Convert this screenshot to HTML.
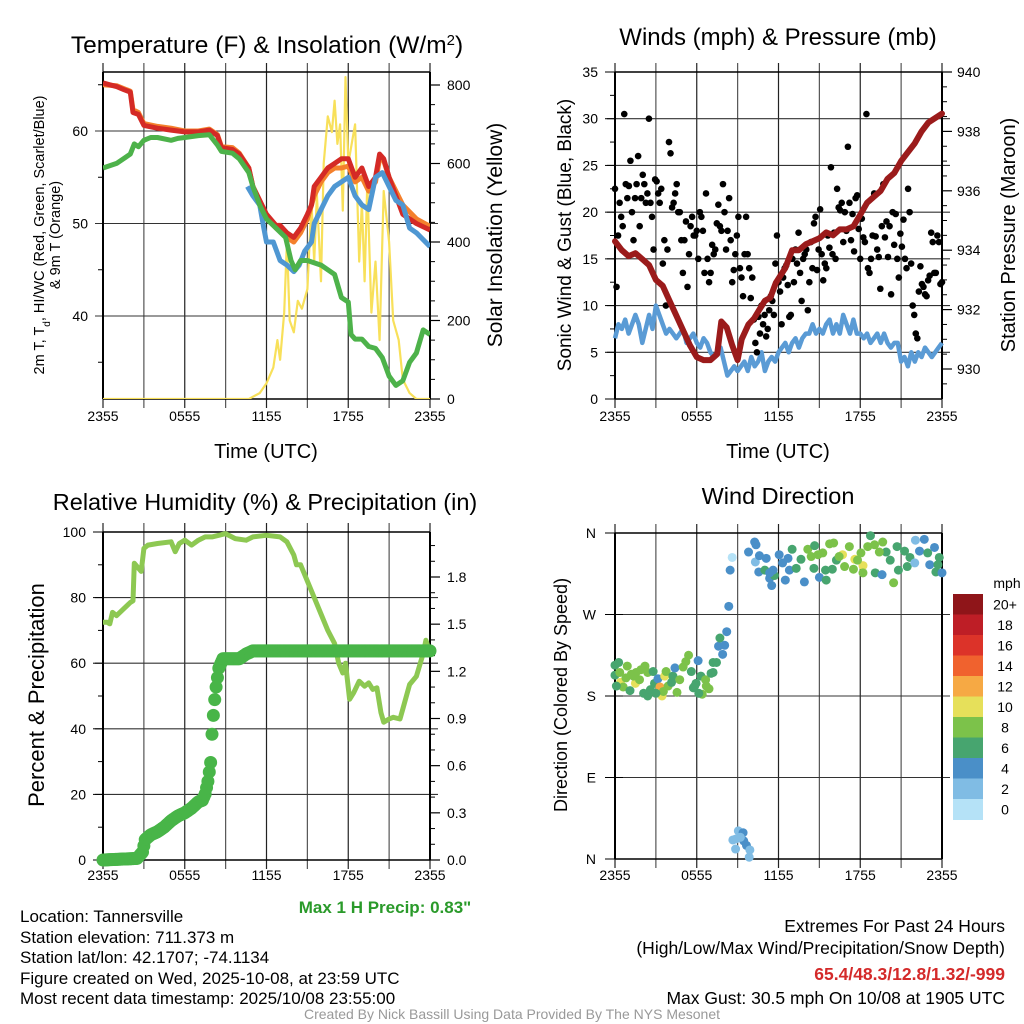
<!DOCTYPE html>
<html><head><meta charset="utf-8">
<style>
html,body{margin:0;padding:0;background:#fff;}
svg{display:block;font-family:"Liberation Sans",sans-serif;}
.t{font-family:"Liberation Sans Narrow","Liberation Sans",sans-serif;font-size:17px;}
</style></head>
<body>
<svg id="chart" width="1024" height="1024" viewBox="0 0 1024 1024">
<rect width="1024" height="1024" fill="#fff"/>
<g id="layer"></g>
<text x="267" y="53" font-size="24.5" text-anchor="middle">Temperature (F) &amp; Insolation (W/m<tspan baseline-shift="super" font-size="15">2</tspan>)</text>
<text x="778" y="45" font-size="24" text-anchor="middle">Winds (mph) &amp; Pressure (mb)</text>
<text x="265" y="510" font-size="23.5" text-anchor="middle">Relative Humidity (%) &amp; Precipitation (in)</text>
<text x="778" y="504" font-size="23.5" text-anchor="middle">Wind Direction</text>
<text x="266" y="458" font-size="20" text-anchor="middle">Time (UTC)</text>
<text x="778" y="458" font-size="20" text-anchor="middle">Time (UTC)</text>
<text transform="translate(44,235) rotate(-90)" font-size="14.5" text-anchor="middle">2m T, T<tspan baseline-shift="sub" font-size="10">d</tspan>, HI/WC (Red, Green, Scarlet/Blue)</text>
<text transform="translate(60,235) rotate(-90)" font-size="14.5" text-anchor="middle">&amp; 9m T (Orange)</text>
<text transform="translate(502,235) rotate(-90)" font-size="21" text-anchor="middle">Solar Insolation (Yellow)</text>
<text transform="translate(571,235) rotate(-90)" font-size="19" text-anchor="middle">Sonic Wind &amp; Gust (Blue, Black)</text>
<text transform="translate(1015,235) rotate(-90)" font-size="20" text-anchor="middle">Station Pressure (Maroon)</text>
<text transform="translate(44,695) rotate(-90)" font-size="22" text-anchor="middle">Percent &amp; Precipitation</text>
<text transform="translate(567,695) rotate(-90)" font-size="18" text-anchor="middle">Direction (Colored By Speed)</text>
<text x="385" y="913" class="t" font-weight="bold" fill="#2a9a2a" text-anchor="middle" style="font-size:17px">Max 1 H Precip: 0.83"</text>
<g class="t">
<text x="20" y="922">Location: Tannersville</text>
<text x="20" y="943">Station elevation: 711.373 m</text>
<text x="20" y="963">Station lat/lon: 42.1707; -74.1134</text>
<text x="20" y="984">Figure created on Wed, 2025-10-08, at 23:59 UTC</text>
<text x="20" y="1004">Most recent data timestamp: 2025/10/08 23:55:00</text>
</g>
<g class="t" text-anchor="end" style="font-size:17.5px">
<text x="1005" y="932">Extremes For Past 24 Hours</text>
<text x="1005" y="954">(High/Low/Max Wind/Precipitation/Snow Depth)</text>
<text x="1005" y="980" font-weight="bold" fill="#d42a2a">65.4/48.3/12.8/1.32/-999</text>
<text x="1005" y="1004">Max Gust: 30.5 mph On 10/08 at 1905 UTC</text>
</g>
<text x="512" y="1019" font-family="Liberation Sans Narrow, Liberation Sans, sans-serif" font-size="14" fill="#999" text-anchor="middle">Created By Nick Bassill Using Data Provided By The NYS Mesonet</text>
</svg>
<script>
// ---------- data ----------
const timeLabels=["2355","0555","1155","1755","2355"];
const tempRed=[[0,65.2],[0.5,65],[1,64.8],[1.5,64.5],[2,64.2],[2.2,62],[2.6,61.8],[3,60.6],[4,60.3],[5,60.1],[6,59.9],[7,59.9],[7.8,60.1],[8.4,59.5],[8.7,58.2],[9.5,58],[10,57.5],[10.7,56],[11,54],[11.5,52.5],[12,51],[12.7,49.8],[13,49.8],[13.5,49],[14,48.5],[14.5,49.5],[15,51],[15.3,52],[15.5,54],[16,55],[16.5,56],[17,56.5],[17.5,57],[18,57],[18.5,55],[19,56],[19.5,54],[20,55],[20.3,57.5],[20.6,57],[21,55],[21.5,53],[22,51],[23,50],[24,49.3]];
const tempOrange=[[0,65],[1,64.9],[2,64.3],[2.2,62.3],[2.6,62],[3,60.8],[4,60.5],[5,60.3],[6,60],[7,60],[7.8,60.2],[8.4,59.6],[8.7,58.3],[9.5,58.2],[10,57.6],[10.7,56],[11,54],[11.5,52.3],[12,50.8],[12.7,49.5],[13.5,48.5],[14,48],[14.5,49],[15,50.5],[15.5,53],[16,54.5],[16.5,55.5],[17,56],[17.5,56],[18,56.2],[18.5,54.5],[19,55],[19.5,53.5],[20,54.5],[20.3,57],[20.6,56.8],[21,55],[21.5,53.5],[22,52],[23,50.5],[24,49.7]];
const tempDew=[[0,56],[1,56.5],[1.5,57],[2,57.5],[2.3,58.6],[2.6,58.3],[3,59],[3.5,59.3],[4,59.3],[5,59],[5.5,59.2],[6,59.3],[7,59.5],[7.8,59.6],[8.4,58.5],[8.7,57.8],[9.5,57.6],[10,57],[10.7,55.5],[11,54],[11.5,52],[12,50.5],[12.7,49.5],[13.4,48.5],[13.8,46],[14.1,45],[14.5,46],[15,46],[16,45.5],[17,44.5],[17.5,42],[18,41.5],[18.2,38],[18.5,37.5],[19,37.5],[19.5,36.7],[20,36.5],[20.5,35.5],[21,33.5],[21.5,32.5],[22,33],[22.5,35],[23,36],[23.5,38.5],[24,38]];
const tempChill=[[10.6,54],[11,53],[11.5,52],[11.8,49.5],[12,48],[12.5,48],[13,46],[13.5,45.5],[14,44.8],[14.4,45.5],[14.8,47],[15.3,48],[15.5,50],[16,51.5],[16.5,53],[17,54],[17.5,54.5],[18,55],[18.5,53],[19,52],[19.5,51.5],[20,55],[20.5,55.5],[21,54],[21.5,52.5],[22,52],[22.5,49.5],[23,49],[24,47.5]];
const solar=[[0,0],[10.7,0],[11.5,15],[12,40],[12.5,80],[12.8,150],[13,100],[13.3,220],[13.5,400],[13.7,200],[14,170],[14.3,250],[14.6,230],[15,280],[15.3,500],[15.5,350],[15.7,520],[16,300],[16.2,600],[16.5,720],[16.8,680],[17,760],[17.2,650],[17.4,700],[17.6,480],[17.8,820],[18,600],[18.2,640],[18.5,700],[18.8,350],[19,500],[19.2,300],[19.4,550],[19.7,220],[20,350],[20.3,150],[20.6,530],[21,400],[21.3,200],[21.7,150],[22,50],[22.5,15],[23,0],[24,0]];
const windSpeed=[6.5,8,7.5,8.5,7,8,9,8,6,7.5,9,7.5, 10,9,8,7,7.5,7,6.5,7,7.5,6,6.5,7, 6,5.5,6.5,6,5,4.5,5,5.5,4,2.5,3,3.5, 3,3.5,4,3,4.5,3.5,4,5,3,4,4.5,4, 5,5.5,6,5,6,6.5,5.5,6.5,7,7,8,7, 7.5,7,8,8.5,7,8,7,9,8,7,8.5,7, 7,6.5,7,6,6.5,7,6,7,6,5.5,6,6, 4,4.5,3.5,5,4,5,4.5,5.5,5,4.5,5,5.5,6];
const gusts=[22.5,12,17.5,21,19.5,18.5,30.5,23,21.5,22.8,25.5,20,17,21.5,23,26,18.5,21.5,24,23,21,22,30,21,19.5,16,23.5,23.3,22,21,22.5,14.5,17,10,16,27.5,26.3,20.5,21,22,23,20,20,17,13.5,17,19,12,15.5,18.5,19.5,17.5,17.5,18,15,20,19.5,18,13.5,22,15,12.5,13.5,16.5,15.5,16,18.8,20.8,18.5,18,23,20,16,18,21.5,17,12.5,13.8,15.5,17.5,19.5,14,13,11,15.5,19.5,15.5,14,10.8,13,8.5,6,5,8.8,7,10,8,9,6.7,7.5,9.5,11,10.5,9,14.5,17.5,12.5,11.5,8,13,14,14.3,12.2,8.8,9,15,12.5,16,14.5,17.8,13.5,10.5,15,15.5,16,9.5,12.5,16.8,14,18.8,19.5,13.8,16,20.3,15.5,12.7,14.5,14,17.5,16.2,24.8,15.5,17.8,15,22.5,20.5,20.2,21,16.8,20,18,27,21,17,19.8,15.8,21.5,21.8,18.2,15,19.3,17.3,16.8,30.5,14,13.5,15,17.5,22,17.4,16,15.2,11.8,18.5,23,17.3,19,15.2,18.5,11.2,20,16.5,19.8,15,13,17.7,16.3,19.2,15,14,22.5,20,14.5,10,9,7,6.5,11.5,14.2,12.3,12,11.2,11,12.7,13.2,17.8,16.8,13.5,13.5,17.5,16.8,12.3,12.5];
const pressure=[[0,934.3],[0.5,934],[1,933.8],[1.5,933.9],[2,933.7],[2.5,933.5],[3,933],[3.5,932.8],[4,932.3],[4.5,931.8],[5,931.3],[5.5,930.8],[6,930.4],[6.5,930.3],[7,930.3],[7.5,930.5],[7.8,931.6],[8.2,931.4],[8.6,930.8],[9,930.3],[9.3,931],[9.8,931.5],[10.2,931.7],[10.6,932],[11,932.3],[11.4,932.4],[11.8,932.9],[12.5,933.4],[13,934],[13.5,934],[14,934.2],[14.5,934.3],[15,934.4],[15.5,934.6],[16,934.5],[16.5,934.7],[17,934.7],[17.5,934.8],[18,935.2],[18.5,935.6],[19,935.8],[19.5,936],[20,936.4],[20.5,936.6],[21,937],[21.5,937.3],[22,937.6],[22.5,938],[23,938.3],[24,938.6]];
const rh=[[0,72.5],[0.3,72.5],[0.5,72],[0.7,75.5],[1,74.5],[1.5,76.5],[2,78.5],[2.2,79],[2.3,90.5],[2.6,89],[2.8,88],[3,95],[3.3,96],[4,96.5],[5,97],[5.3,94],[5.6,96.5],[6,97.5],[6.5,96],[7,97.5],[7.5,98.5],[8,98.5],[8.5,99],[9,99.5],[9.7,98],[10.5,97.5],[11,98.5],[12,99],[13,98.5],[13.5,97],[14,93],[14.2,90],[14.5,90],[15,85],[15.5,80],[16,75],[16.5,70],[17,66],[17.3,60],[17.6,57],[17.8,60],[18.1,49],[18.4,51],[18.8,54.5],[19.2,53],[19.5,54],[19.8,52],[20.1,52.5],[20.4,45],[20.6,42],[21,43],[21.3,43.5],[21.8,43],[22,46],[22.5,53.5],[23,56],[23.5,63],[23.7,67],[24,63]];
const precip=[[0,0],[2.5,0.01],[2.9,0.05],[3.1,0.13],[3.5,0.16],[4,0.18],[4.5,0.21],[5,0.25],[5.5,0.28],[6,0.3],[6.5,0.33],[7,0.37],[7.3,0.38],[7.5,0.42],[7.7,0.5],[7.9,0.62],[8,0.8],[8.1,0.92],[8.2,1.02],[8.3,1.1],[8.5,1.22],[8.8,1.28],[9.5,1.28],[10,1.28],[10.5,1.31],[11,1.33],[24,1.33]];
const dirTime=[0,0.27,0,0.4,0.35,0.9,0.6,1.1,1.2,1.55,1.5,1.8,2.1,2.2,2.4,2.4,2.8,2.9,3.15,3.3,3.45,3.65,3.75,3.55,4.25,4.4,4.55,4.75,5.2,5.4,5.6,5.75,5.95,6.1,6.3,6.4,6.65,6.9,7.05,7.2,7.45,7.6,7.7,7.9,8.05,8.2,8.35,8.45,8.6,0.1,0.8,1.35,1.9,2.6,3,3.9,4.15,5,5.85,6.15,6.7,7.2,
8.85,9.05,9.4,8.85,9.45,9.65,9.9,9.85,8.65,9.2,
9.8,10.25,10.35,10.3,10.6,11.1,10.55,11,11.35,11.5,11.7,12.05,12.3,12.5,12.8,13,13.3,13.65,13.9,14.15,14.4,14.65,14.9,15,15.45,15.5,15.75,16.05,15.95,16.25,16.7,16.85,17.2,17.6,17.5,18.05,18.2,18.2,18.75,19.05,19.1,19.65,19.6,19.9,20.2,20.45,20.7,20.8,21.25,21.45,21.65,22.05,22,22.35,22.7,22.95,23.1,23.45,23.55,23.8,24,23.7,19.4,18.55,17.8,16.45,15.25,14.6,12.7,11.6,11.35];
const dirDeg=[214,217,203,195,206,213,190,186,204,206,194,198,183,213,206,180,207,194,199,190,180,202,207,185,202,211,184,198,218,225,207,189,194,219,202,182,198,188,205,217,217,235,244,226,236,251,279,319,333,191,200,202,209,187,183,191,195,212,191,183,191,206,
22,31,29,11,20,15,10,2,21,24,
339,350,347,328,335,332,317,319,310,302,313,336,327,308,319,342,321,331,306,342,334,346,336,311,319,308,348,349,320,330,336,323,345,331,320,338,324,316,357,347,316,350,314,339,330,305,345,319,340,323,333,352,327,340,353,338,325,344,317,333,316,325,339,345,330,334,338,321,332,319,316];
const dirSpeed=[6,6,6,10,8,8,8,6,8,8,10,8,6,8,8,6,6,6,4,12,10,10,8,8,6,4,8,8,8,8,6,6,6,4,6,8,8,8,6,6,6,4,6,4,4,4,4,4,0.5,6,8,8,8,6,6,8,6,8,6,6,8,6,
2.5,2.5,4,2.5,4,4,2.5,2.5,2.5,2.5,
4,4,4,2.5,4,4,4,6,4,4,6,4,4,4,4,6,6,6,4,8,8,6,8,4,6,6,8,8,6,6,10,8,8,10,8,8,10,8,6,8,6,8,4,6,6,8,6,6,6,6,6,2.5,2.5,4,4,6,4,4,6,6,4,6,8,8,8,8,8,6,4,4,4];
const speedLabels=["0","2","4","6","8","10","12","14","16","18","20+"];
const speedColors=["#b5e2f7","#80bce4","#4a8fc8","#47a56f","#7cc24a","#e6e05a","#f6a944","#f0622e","#dc3329","#be1e26","#8f1519"];

// ---------- helpers ----------
const NS="http://www.w3.org/2000/svg";
const layer=document.getElementById('layer');
function mk(tag,attrs,parent){const e=document.createElementNS(NS,tag);for(const k in attrs)e.setAttribute(k,attrs[k]);(parent||layer).appendChild(e);return e;}
function grp(name){const g=mk('g',{});return g;}
const X0=103,X1=430,X0b=615,X1b=942;
function xs(left,right){return h=>left+(right-left)*h/24;}
function lin(d0,d1,p0,p1){return v=>p0+(v-d0)*(p1-p0)/(d1-d0);}
function pathFrom(pts,fx,fy){return pts.map((p,i)=>(i?'L':'M')+fx(p[0]).toFixed(1)+' '+fy(p[1]).toFixed(1)).join('');}
function txt(g,x,y,s,anchor,size){const t=mk('text',{x:x,y:y,'font-size':size||14,'text-anchor':anchor||'middle'},g);t.textContent=s;return t;}

function frame(name,left,right,top,bottom,fy,hvals,yl,yLabels,labelX){
  const g=grp(name+'-axes');
  for(let i=0;i<=8;i++){const x=left+(right-left)*i/8;
    mk('line',{x1:x,x2:x,y1:top-9,y2:bottom+9,stroke:(i%2?'#555':'#222'),'stroke-width':1.2},g);
  }
  hvals.forEach(v=>{mk('line',{x1:left-8,x2:right+8,y1:fy(v),y2:fy(v),stroke:'#333','stroke-width':1.1},g);});
  mk('line',{x1:left,x2:right,y1:top,y2:top,stroke:'#000','stroke-width':1.5},g);
  mk('line',{x1:left,x2:right,y1:bottom,y2:bottom,stroke:'#000','stroke-width':1.5},g);
  mk('line',{x1:left,x2:left,y1:top,y2:bottom,stroke:'#000','stroke-width':2},g);
  mk('line',{x1:right,x2:right,y1:top,y2:bottom,stroke:'#000','stroke-width':2},g);
  yLabels.forEach((s,i)=>{txt(g,labelX,fy(yl[i])+5,s,'end',14);});
  return g;
}
function xLabels(name,left,right,y){const g=grp(name);timeLabels.forEach((s,i)=>{txt(g,left+(right-left)*i/4,y,s,'middle',14);});}
function rightAxis(name,right,ticks,minor,fy,labels,lx){
  const g=grp(name);
  minor.forEach(v=>mk('line',{x1:right,x2:right+5,y1:fy(v),y2:fy(v),stroke:'#000','stroke-width':1},g));
  ticks.forEach((v,i)=>{mk('line',{x1:right,x2:right+10,y1:fy(v),y2:fy(v),stroke:'#000','stroke-width':1.2},g);txt(g,lx,fy(v)+5,labels[i],'start',14);});
}
function leftMinor(g,left,vals,fy){vals.forEach(v=>mk('line',{x1:left-5,x2:left,y1:fy(v),y2:fy(v),stroke:'#000','stroke-width':1},g));}

// ---------- Panel 1: temperature ----------
{
 const fx=xs(X0,X1), fy=lin(60,40,131,316), fs=lin(0,800,399,85);
 const g=frame('temp',X0,X1,72,399,fy,[40,50,60],[40,50,60],["40","50","60"],88);
 leftMinor(g,X0,[35,45,55,65],fy);
 rightAxis('insolation-axis',X1,[0,200,400,600,800],[50,100,150,250,300,350,450,500,550,650,700,750],fs,["0","200","400","600","800"],447);
 xLabels('temp-x-labels',X0,X1,421);
 const clip=mk('clipPath',{id:'c1'});mk('rect',{x:X0,y:72,width:X1-X0,height:327},clip);
 const s=mk('g',{'clip-path':'url(#c1)'});
 let p;
 p=mk('path',{d:pathFrom(solar,fx,fs),fill:'none',stroke:'#f8e05a','stroke-width':2.2,'stroke-linejoin':'round'},s);
 
 p=mk('path',{d:pathFrom(tempOrange,fx,fy),fill:'none',stroke:'#f4802c','stroke-width':5,'stroke-linejoin':'round'},s);
 
 p=mk('path',{d:pathFrom(tempRed,fx,fy),fill:'none',stroke:'#d42a26','stroke-width':5,'stroke-linejoin':'round'},s);
 
 p=mk('path',{d:pathFrom(tempChill,fx,fy),fill:'none',stroke:'#4f97d2','stroke-width':5,'stroke-linejoin':'round'},s);
 
 p=mk('path',{d:pathFrom(tempDew,fx,fy),fill:'none',stroke:'#4db24a','stroke-width':5,'stroke-linejoin':'round'},s);
 
}
// ---------- Panel 2: winds ----------
{
 const fx=xs(X0b,X1b), fy=lin(0,35,399,72), fp=lin(940,930,72,369);
 const g=frame('winds',X0b,X1b,72,399,fy,[5,10,15,20,25,30],[0,5,10,15,20,25,30,35],["0","5","10","15","20","25","30","35"],598);
 leftMinor(g,X0b,[2.5,7.5,12.5,17.5,22.5,27.5,32.5],fy);
 [0,5,10,15,20,25,30,35].forEach(v=>mk('line',{x1:X0b-10,x2:X0b,y1:fy(v),y2:fy(v),stroke:'#000'},g));
 const minP=[];for(let v=929.5;v<940;v+=0.5){if(Math.abs(v%2)>0.01)minP.push(v);}
 rightAxis('pressure-axis',X1b,[930,932,934,936,938,940],minP,fp,["930","932","934","936","938","940"],957);
 xLabels('winds-x-labels',X0b,X1b,421);
 const ws=windSpeed.map((v,i)=>[i*24/(windSpeed.length-1),v]);
 let p=mk('path',{d:pathFrom(ws,fx,fy),fill:'none',stroke:'#5a9bd5','stroke-width':4.5,'stroke-linejoin':'round'});
 
 const gg=grp('gust-points');
 gusts.forEach((v,i)=>{const c=mk('circle',{cx:fx(i*24/(gusts.length-1)),cy:fy(v),r:3.3,fill:'#000'},gg);
  });
 p=mk('path',{d:pathFrom(pressure,fx,fp),fill:'none',stroke:'#9b1b1b','stroke-width':6,'stroke-linejoin':'round','stroke-linecap':'round'});
 
}
// ---------- Panel 3: RH & precip ----------
{
 const fx=xs(X0,X1), fy=lin(0,100,860,532), fq=lin(0,1.8,860,577);
 const g=frame('rh',X0,X1,532,860,fy,[20,40,60,80],[0,20,40,60,80,100],["0","20","40","60","80","100"],86);
 leftMinor(g,X0,[10,30,50,70,90],fy);
 [0,20,40,60,80,100].forEach(v=>mk('line',{x1:X0-10,x2:X0,y1:fy(v),y2:fy(v),stroke:'#000'},g));
 rightAxis('precip-axis',X1,[0,0.3,0.6,0.9,1.2,1.5,1.8],[0.1,0.2,0.4,0.5,0.7,0.8,1.0,1.1,1.3,1.4,1.6,1.7,1.9,2.0],fq,["0.0","0.3","0.6","0.9","1.2","1.5","1.8"],447);
 xLabels('rh-x-labels',X0,X1,880);
 let p=mk('path',{d:pathFrom(rh,fx,fy),fill:'none',stroke:'#8dc852','stroke-width':5,'stroke-linejoin':'round'});
 
 const pg=grp('precip-points');
 for(let k=0;k<precip.length-1;k++){const a=precip[k],b=precip[k+1];const n=Math.max(1,Math.round((b[0]-a[0])*12));
  for(let j=0;j<n;j++){const t=j/n;const c=mk('circle',{cx:fx(a[0]+(b[0]-a[0])*t),cy:fq(a[1]+(b[1]-a[1])*t),r:6.5,fill:'#48b548'},pg);
   }}
 const last=precip[precip.length-1];
 const c=mk('circle',{cx:fx(last[0]),cy:fq(last[1]),r:6.5,fill:'#48b548'},pg);
 
}
// ---------- Panel 4: wind direction ----------
{
 const fx=xs(X0b,X1b), fy=lin(0,360,859,533);
 const g=frame('direction',X0b,X1b,533,859,fy,[90,180,270],[0,90,180,270,360],["N","E","S","W","N"],596);
 [0,90,180,270,360].forEach(v=>mk('line',{x1:X0b-10,x2:X0b+8,y1:fy(v),y2:fy(v),stroke:'#000'},g));
 xLabels('direction-x-labels',X0b,X1b,880);
 const dg=grp('direction-points');
 dirTime.forEach((h,i)=>{const idx=Math.min(10,Math.round(dirSpeed[i]/2));
  const c=mk('circle',{cx:fx(h),cy:fy(dirDeg[i]),r:4.5,fill:speedColors[idx]},dg);
  });
 const cb=grp('speed-colorbar');
 const top=594,bh=20.5;
 speedLabels.slice().reverse().forEach((s,i)=>{const ci=10-i;
  mk('rect',{x:953,y:top+i*bh,width:30,height:bh+0.5,fill:speedColors[ci]},cb);
  txt(cb,1005,top+i*bh+bh/2+5,s,'middle',14);});
 txt(cb,1007,588,'mph','middle',14);
}
</script>
</body></html>
